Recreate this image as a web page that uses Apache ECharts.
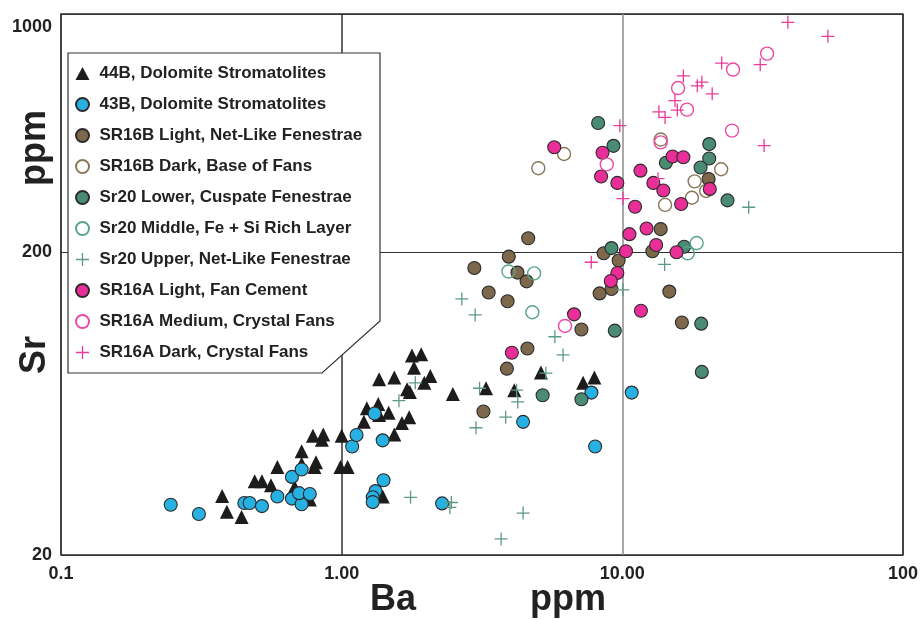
<!DOCTYPE html>
<html>
<head>
<meta charset="utf-8">
<title>Sr vs Ba</title>
<script src="https://cdn.jsdelivr.net/npm/echarts@6/dist/echarts.min.js"></script>
<style>
html, body { margin: 0; padding: 0; background: #fff; }
#chart { width: 921px; height: 620px; }
</style>
</head>
<body>
<div id="chart"></div>
<script>
// axis ticks
var xTickValues = [0.1, 1, 10, 100];
var xTickText = ['0.1', '1.00', '10.00', '100'];
var yTickValues = [20, 200, 1220];
var yTickText = ['20', '200', '1000'];

// [Ba ppm, Sr ppm]
var s44B = [[1.78,91],[1.92,92],[1.81,83],[1.36,76],[1.54,77],[2.07,78],[1.97,74],[1.71,70.5],[1.75,69],[2.49,68],
  [1.23,61],[1.35,63],[1.36,58],[1.47,59],[1.74,57],[1.64,54.5],[1.2,55],[1.54,50],[0.79,49.5],[0.86,50],
  [0.85,48],[1.0,49.5],[0.72,44],[0.72,40],[0.81,40.5],[0.8,39],[0.59,39],[0.99,39],[1.05,39],[0.49,35],
  [0.52,35],[0.56,34],[0.68,33.5],[0.375,31.3],[0.39,27.8],[0.44,26.7],[0.77,30.5],[1.4,31.2],[3.27,71],[4.12,70],
  [5.13,80],[7.25,74],[7.95,77]];
var s43B = [[0.246,29.3],[0.31,27.3],[0.45,29.7],[0.47,29.7],[0.52,29],[0.59,31.2],[0.665,30.7],[0.72,29.4],[0.705,32],[0.77,31.8],
  [0.665,36.2],[0.72,38.3],[1.09,45.6],[1.13,49.8],[1.31,58.6],[1.4,47.8],[1.41,35.3],[1.32,32.5],[1.29,31],[1.29,29.9],
  [2.28,29.6],[4.43,55],[7.76,68.7],[10.8,68.7],[8.0,45.6]];
var sr16bLight = [[4.62,222],[3.94,193],[2.97,177],[4.23,171],[4.56,160],[3.34,147],[3.9,137.6],[7.15,111],[4.59,96],[3.88,82.4],
  [3.2,59.5],[8.58,198],[9.7,187.5],[9.15,151],[8.3,146],[12.8,201],[13.7,238],[20.3,348],[14.7,148],[16.3,117]];
var sr16bDark = [[5.02,378],[6.2,421],[13.7,470],[18.1,342],[22.5,375],[17.7,302],[19.9,318],[14.2,286]];
var sr20Lower = [[8.2,533],[9.3,448],[14.3,394],[20.4,454],[20.4,407],[19.0,380],[23.7,296],[9.15,206],[16.6,208],[9.4,110],
  [19.1,116],[19.2,80.4],[5.2,67.3],[7.15,65.3]];
var sr20Middle = [[3.93,172.5],[4.85,170],[4.78,126.5],[18.4,214],[17.1,198]];
var sr20Upper = [[1.83,74],[1.6,64.6],[1.76,31],[2.46,29.8],[2.43,28.7],[3.1,71],[4.2,70],[4.24,64],[3.84,57],[3.01,52.6],
  [5.34,79.6],[4.43,27.5],[3.7,22.6],[2.68,140],[2.99,124],[5.75,105],[6.15,91.5],[10.05,150],[14.15,182],[28.2,281]];
var sr16aLight = [[5.72,443],[8.5,425],[8.4,355],[9.6,338],[11.6,371],[15.1,413],[16.5,411],[12.9,338],[14.0,319],[16.2,288],
  [20.5,323],[11.1,282],[12.2,239],[10.6,229],[13.2,211],[10.3,201],[15.6,199.5],[9.6,170.5],[9.1,160.5],[6.73,124.5],
  [11.65,128],[4.04,93]];
var sr16aMedium = [[32.8,903],[24.8,800],[15.8,695],[17.0,590],[24.6,503],[13.7,460],[8.8,389],[6.25,114]];
var sr16aDark = [[38.9,1145],[54,1030],[22.6,840],[31,830],[16.5,762],[19.2,727],[18.5,707],[20.9,665],[15.4,632],[15.7,588],
  [13.5,580],[14.2,556],[32.0,449],[9.8,522],[13.4,349],[10.05,300],[7.75,185]];

var FONT = '"Liberation Sans", Arial, sans-serif';
var PLUS = 'path://M5.4,0H6.6V5.4H12V6.6H6.6V12H5.4V6.6H0V5.4H5.4Z';

function filled(name, data, color) {
  return { name: name, type: 'scatter', data: data, symbol: 'circle', symbolSize: 13,
    itemStyle: { color: color, borderColor: '#2b2b2b', borderWidth: 1.1, opacity: 1 } };
}
function hollow(name, data, color) {
  return { name: name, type: 'scatter', data: data, symbol: 'circle', symbolSize: 13,
    itemStyle: { color: 'rgba(255,255,255,0)', borderColor: color, borderWidth: 1.4, opacity: 1 } };
}
function cross(name, data, color) {
  return { name: name, type: 'scatter', data: data, symbol: PLUS, symbolSize: 13,
    itemStyle: { color: color, opacity: 1 } };
}

var series = [
  { name: '44B, Dolomite Stromatolites', type: 'scatter', data: s44B, symbol: 'triangle', symbolSize: 14,
    itemStyle: { color: '#1c1c1c', opacity: 1 } },
  filled('43B, Dolomite Stromatolites', s43B, '#27b1e3'),
  filled('SR16B Light, Net-Like Fenestrae', sr16bLight, '#7d684c'),
  hollow('SR16B Dark, Base of Fans', sr16bDark, '#8a7658'),
  filled('Sr20 Lower, Cuspate Fenestrae', sr20Lower, '#4a8b74'),
  hollow('Sr20 Middle, Fe + Si Rich Layer', sr20Middle, '#5aa38a'),
  cross('Sr20 Upper, Net-Like Fenestrae', sr20Upper, '#5c9a83'),
  filled('SR16A Light, Fan Cement', sr16aLight, '#ea2e97'),
  hollow('SR16A Medium, Crystal Fans', sr16aMedium, '#ee47a2'),
  cross('SR16A Dark, Crystal Fans', sr16aDark, '#ea3b9b')
];
series.forEach(function (s) { s.emphasis = { disabled: true }; });

var chart = echarts.init(document.getElementById('chart'));
chart.setOption({
  animation: false,
  backgroundColor: '#fff',
  grid: { left: 61, right: 16, top: 14, bottom: 65, show: true, borderColor: '#2a2a2a', borderWidth: 1.3 },
  xAxis: {
    type: 'log', logBase: 10, min: 0.1, max: 100, interval: 1,
    axisLine: { show: false }, axisTick: { show: false },
    splitLine: { show: true, lineStyle: { color: ['#333', '#333', '#8c8c8c', '#333'], width: 1.5 } },
    axisLabel: {
      fontFamily: FONT, fontWeight: 'bold', fontSize: 18, color: '#222', margin: 10,
      formatter: function (v) {
        for (var i = 0; i < xTickValues.length; i++) {
          if (Math.abs(Math.log10(v) - Math.log10(xTickValues[i])) < 0.01) return xTickText[i];
        }
        return '';
      }
    }
  },
  yAxis: {
    type: 'log', logBase: 10, min: 20, max: 1220, interval: 1,
    axisLine: { show: false }, axisTick: { show: false },
    splitLine: { show: true, lineStyle: { color: '#333', width: 1 } },
    axisLabel: {
      fontFamily: FONT, fontWeight: 'bold', fontSize: 18, color: '#222', margin: 9,
      formatter: function (v) {
        for (var i = 0; i < yTickValues.length; i++) {
          if (Math.abs(Math.log10(v) - Math.log10(yTickValues[i])) < 0.01) {
            return i === yTickValues.length - 1 ? '{top|' + yTickText[i] + '}' : yTickText[i];
          }
        }
        return '';
      },
      rich: { top: { fontFamily: FONT, fontWeight: 'bold', fontSize: 18, color: '#222', padding: [26, 0, 0, 0] } }
    }
  },
  legend: {
    orient: 'vertical', left: 75, top: 65, padding: 0,
    itemWidth: 14, itemHeight: 13, itemGap: 14, selectedMode: false, z: 10,
    textStyle: { fontFamily: FONT, fontWeight: 'bold', fontSize: 17, color: '#222', padding: [0, 0, 0, 5] }
  },
  graphic: [
    { type: 'polygon', z: 5, silent: true,
      shape: { points: [[68, 53], [380, 53], [380, 321], [322, 373], [68, 373]] },
      style: { fill: '#fff', stroke: '#333', lineWidth: 1.2 } },
    { type: 'text', x: 393, y: 600, silent: true,
      style: { text: 'Ba', font: 'bold 36px ' + FONT, fill: '#222', textAlign: 'center', textVerticalAlign: 'middle' } },
    { type: 'text', x: 568, y: 600, silent: true,
      style: { text: 'ppm', font: 'bold 36px ' + FONT, fill: '#222', textAlign: 'center', textVerticalAlign: 'middle' } },
    { type: 'text', x: 35, y: 355, rotation: Math.PI / 2, silent: true,
      style: { text: 'Sr', font: 'bold 36px ' + FONT, fill: '#222', textAlign: 'center', textVerticalAlign: 'middle' } },
    { type: 'text', x: 35, y: 148, rotation: Math.PI / 2, silent: true,
      style: { text: 'ppm', font: 'bold 36px ' + FONT, fill: '#222', textAlign: 'center', textVerticalAlign: 'middle' } }
  ],
  series: series
});
</script>
</body>
</html>
